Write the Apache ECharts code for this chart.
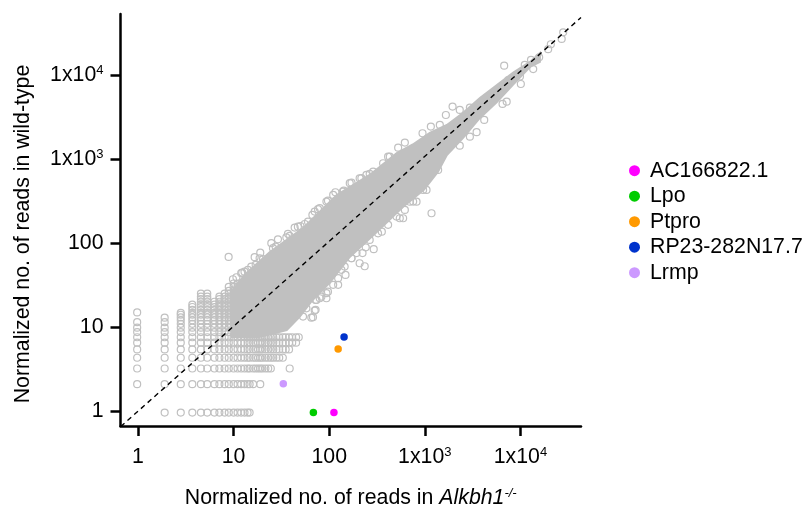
<!DOCTYPE html>
<html><head><meta charset="utf-8">
<style>html,body{margin:0;padding:0;background:#fff}#c{width:806px;height:510px}</style>
<script src="https://cdn.jsdelivr.net/npm/echarts@6/dist/echarts.min.js"></script>
</head><body><div id="c"></div>
<script>
const tickValues = [1, 10, 100, 1000, 10000];
const gridColumnsX = [0.98,1.9,2.8,3.7,4.55,5.3,6.3,7.1,8.05,8.9,10,11,12,13,14,14.7,16,17,18,19,20,21.5,23,24.5,26,28,30,32.7,35,38,41,45,48];
const gridColumnsTopY = [9.8,9.8,14.7,18.5,25,25,20,23,25,30,33,99,99,99,99,99,99,99,99,99,99,99,99,99,99,99,99,99,99,99,99,99,99];
const gridRowsY = [0.955,2.08,3.2,4.3,5.4,6.5,7.55,8.7,9.8,10.9,12,13,14,14.7,16,17.3,18.5,20,21.5,23,25,27,30,33];
const gridRowsLastX = [14.7,16,24.5,32.7,38,45,48,14,14,14,14,14,14,14,14,14,14,14,14,14,14,14,14,14];
const isolatedPoints = [[0.98,11.4],[0.98,14.9],[1.9,11.4],[1.9,12.9],[19,2.08],[38.6,3.2]];
const bandEdgeUpper = [[9.5,7.6],[9.5,26.2],[13,41.8],[23.8,78],[52.8,150],[120,375],[265,650],[509,1180],[749,1500],[1128,2057],[1700,2564],[2500,3565],[3767,5380],[5675,7690],[8340,10690],[12570,14450],[16000,18500]];
const bandEdgeLower = [[16000,14450],[12570,12590],[8340,7690],[5675,4820],[3767,3105],[2500,1790],[1700,1125],[1368,706],[977,431],[589,270],[314,136],[164,68.5],[101,33.6],[67,21],[49,13.2],[35.9,9.2],[18.7,7.6]];
const outliersUpper = [[8.87,68.5],[9.84,37.1],[10.7,39.2],[12.3,44.5],[14.1,48],[16.6,67.9],[19,77],[24.8,99.8],[29.1,111],[37,129],[43.5,153],[50,160],[60,180],[66.7,217],[79.6,261],[97,321],[116,404],[142,423],[171,526],[217,594],[265,668],[413,1074],[526,1374],[618,1578],[946,2040],[1156,2450],[1435,2565],[1660,3370],[1950,4240],[2320,3870],[2960,4120],[6760,13060],[9890,9660],[7450,8810],[12900,15300],[11100,13300],[15700,16400],[19500,20500],[20800,23500],[28000,32600]];
const edgeRingsUpper = [[12,43.8],[13,45.7],[15.3,52.5],[17,55],[18.7,66],[20.3,64.3],[25.8,87],[27.5,90.8],[35.6,117],[38.5,122],[47,157],[55.4,169],[70.5,238],[76.4,254],[93.5,313],[110,375],[139,411],[164,518],[208,593],[245,650],[288,712],[366,896],[430,1074]];
const outliersLower = [[1175,227],[819,312],[593,198],[547,198],[355,137],[292,84.6],[235,53],[208,57.5],[241,89],[148,41.8],[124,31.8],[93.5,22],[72,21],[70.5,15.7],[65,12.9],[1042,431],[697,312],[413,165],[223,76],[171,66],[7180,4860],[6500,4560],[10100,7890],[13600,11900],[27000,27200],[3480,2100],[4180,2940],[2320,1450],[1378,746],[2960,1860]];
const edgeRingsLower = [[53.2,13.3],[57.7,16.7],[73.5,21],[82.8,23],[97,26.4],[110,31.8],[124,38.2],[134,48],[145,52.5],[171,66],[193,76],[265,109],[324,131],[506,207],[618,249],[755,313],[959,431],[72,16],[67.6,13.1],[93.5,25.3],[79.6,22]];
const referenceLine = [[0.66,0.65],[43000,49000]];
const genes = ['AC166822.1','Lpo','Ptpro','RP23-282N17.7','Lrmp'];
const geneX = [112,68.3,124,143,33.1];
const geneY = [0.955,0.955,5.48,7.62,2.1];
const geneColors = ['#ff00ff','#00cc00','#ff9900','#0033cc','#cc99ff'];

const GREY = '#c0c0c0', FONT = 'Liberation Sans', FS = 21.3, SUP = 13;
const gridPoints = [];
gridColumnsX.forEach((x,i)=>gridRowsY.forEach((y,j)=>{
  if (y<=gridColumnsTopY[i] && x<=gridRowsLastX[j] && !(x===0.98 && y===0.955)) gridPoints.push([x,y]);
}));
const rings = gridPoints.concat(isolatedPoints, outliersUpper, edgeRingsUpper, outliersLower, edgeRingsLower);
const bandOutline = bandEdgeUpper.concat(bandEdgeLower);
const rich = {s:{fontSize:SUP,fontFamily:FONT,color:'#000',verticalAlign:'top',lineHeight:22},n:{fontSize:FS,fontFamily:FONT,color:'#000',lineHeight:22}};
function tickLabel(v){
  const e = Math.round(Math.log10(v));
  if (e<=2) return '{n|'+Math.round(v)+'}';
  return '{n|1x10}{s|'+e+'}';
}
function axis(min,max,margin,extra){
  return Object.assign({type:'log',logBase:10,min,max,
    axisLine:{onZero:false,lineStyle:{color:'#000',width:2.5}},
    axisTick:{show:true,length:10,lineStyle:{color:'#000',width:2.5},customValues:tickValues},
    axisLabel:{formatter:tickLabel,rich,margin,customValues:tickValues,showMinLabel:true,showMaxLabel:true,hideOverlap:false},
    splitLine:{show:false},minorTick:{show:false},minorSplitLine:{show:false}},extra);
}
const chart = echarts.init(document.getElementById('c'),null,{renderer:'canvas'});
chart.setOption({
  animation:false,backgroundColor:'#fff',
  textStyle:{fontFamily:FONT},
  grid:{left:120.5,right:225,top:14,bottom:84,containLabel:false,outerBoundsMode:'none'},
  xAxis:axis(0.656,43000,20,{
    name:'{n|Normalized no. of reads in }{i|Alkbh1}{si|-/-}',nameLocation:'middle',nameGap:61,
    nameTextStyle:{rich:{n:{fontSize:FS,fontFamily:FONT,color:'#000',lineHeight:22},i:{fontSize:FS,fontFamily:FONT,fontStyle:'italic',color:'#000',lineHeight:22},si:{fontSize:SUP,fontFamily:FONT,fontStyle:'italic',color:'#000',verticalAlign:'top',lineHeight:22}}}
  }),
  yAxis:axis(0.66,53900,17,{
    name:'Normalized no. of reads in wild-type',nameLocation:'middle',nameGap:87,
    nameTextStyle:{fontSize:FS,fontFamily:FONT,color:'#000',padding:[0,28,0,0]}
  }),
  legend:{show:true,orient:'vertical',left:629,top:160.2,padding:0,itemWidth:11,itemHeight:11,itemGap:4.5,selectedMode:false,icon:'circle',
    data:genes,textStyle:{fontSize:FS,fontFamily:FONT,color:'#000',lineHeight:21,padding:[0,0,0,5]}},
  tooltip:{show:false},
  series:[
    {type:'custom',name:'band',silent:true,z:2,coordinateSystem:'cartesian2d',data:[0],
     renderItem:(p,api)=>({type:'polygon',shape:{points:bandOutline.map(q=>api.coord(q))},style:{fill:GREY,stroke:GREY,lineWidth:2}})},
    {type:'scatter',name:'genes',silent:true,z:3,data:rings,symbol:'circle',symbolSize:7,
     itemStyle:{color:'rgba(255,255,255,0)',borderColor:GREY,borderWidth:1.2,opacity:1}},
    {type:'line',name:'identity',silent:true,z:4,data:referenceLine,symbol:'none',
     lineStyle:{color:'#000',width:1.4,type:[5,4]}},
    ...genes.map((g,i)=>({type:'scatter',name:g,z:5,symbol:'circle',symbolSize:7.5,data:[[geneX[i],geneY[i]]],itemStyle:{color:geneColors[i],opacity:1}}))
  ]
});
</script></body></html>
